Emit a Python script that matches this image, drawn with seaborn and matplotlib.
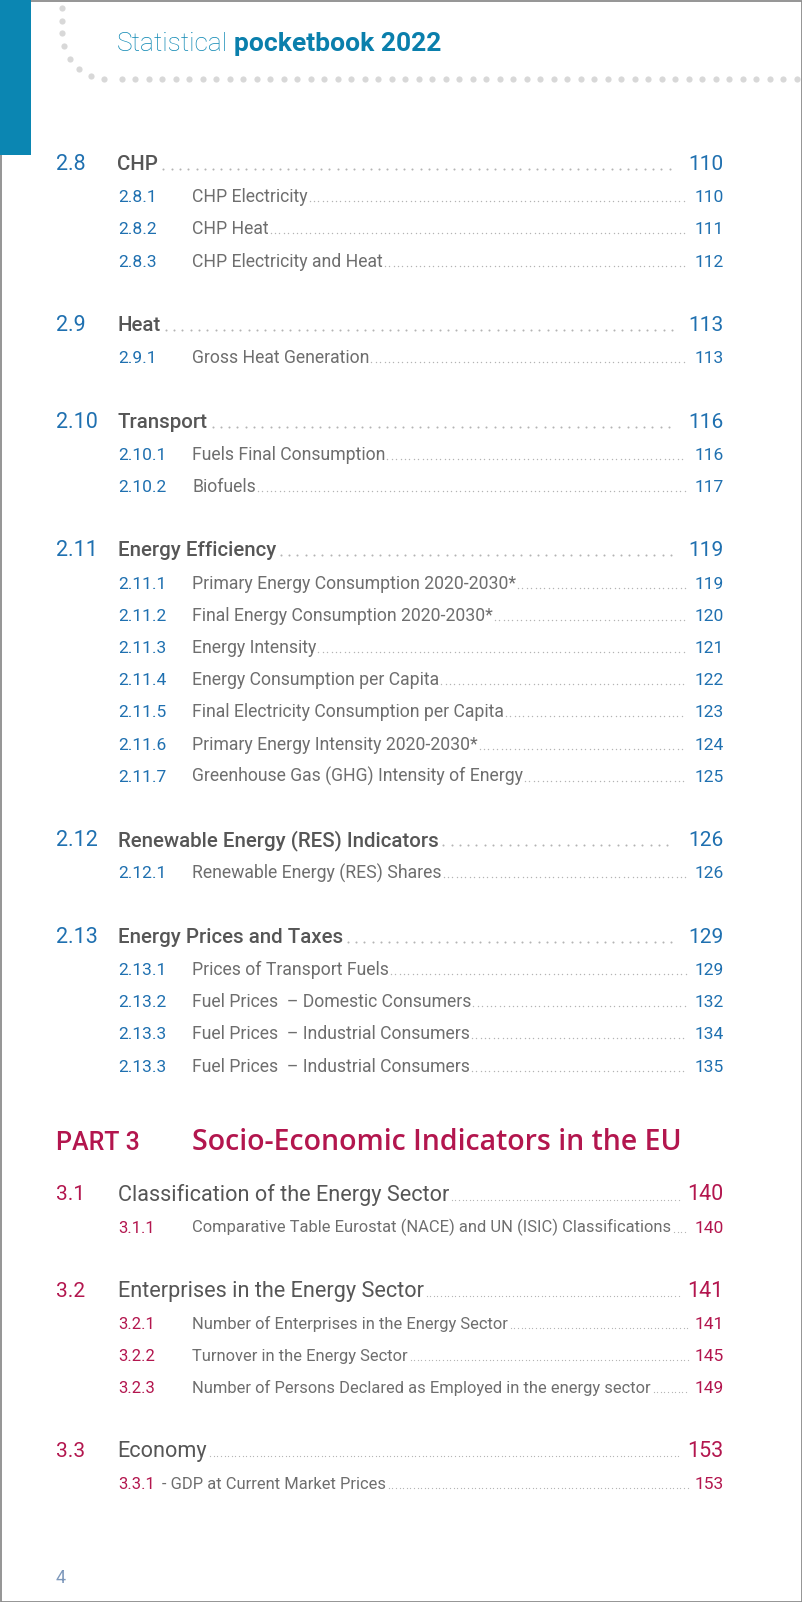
import numpy as np
import pandas as pd
import matplotlib
matplotlib.use("Agg")
import matplotlib.pyplot as plt
from matplotlib.patches import Rectangle
import seaborn as sns

# ---------------- data ----------------
header_light = "Statistical"
header_bold = "pocketbook 2022"
page_label = "4"

p2_numbers = ["2.8", "2.8.1", "2.8.2", "2.8.3", "2.9", "2.9.1", "2.10", "2.10.1", "2.10.2",
              "2.11", "2.11.1", "2.11.2", "2.11.3", "2.11.4", "2.11.5", "2.11.6", "2.11.7",
              "2.12", "2.12.1", "2.13", "2.13.1", "2.13.2", "2.13.3", "2.13.3"]
p2_titles = ["CHP", "CHP Electricity", "CHP Heat", "CHP Electricity and Heat",
             "Heat", "Gross Heat Generation",
             "Transport", "Fuels Final Consumption", "Biofuels",
             "Energy Efficiency", "Primary Energy Consumption 2020-2030*",
             "Final Energy Consumption 2020-2030*", "Energy Intensity",
             "Energy Consumption per Capita", "Final Electricity Consumption per Capita",
             "Primary Energy Intensity 2020-2030*", "Greenhouse Gas (GHG) Intensity of Energy",
             "Renewable Energy (RES) Indicators", "Renewable Energy (RES) Shares",
             "Energy Prices and Taxes", "Prices of Transport Fuels",
             "Fuel Prices  \u2013 Domestic Consumers", "Fuel Prices  \u2013 Industrial Consumers",
             "Fuel Prices  \u2013 Industrial Consumers"]
p2_pages = [110, 110, 111, 112, 113, 113, 116, 116, 117, 119, 119, 120, 121, 122, 123, 124, 125,
            126, 126, 129, 129, 132, 134, 135]
p2_levels = [1, 2, 2, 2, 1, 2, 1, 2, 2, 1, 2, 2, 2, 2, 2, 2, 2, 1, 2, 1, 2, 2, 2, 2]

part3_label = "PART 3"
part3_title = "Socio-Economic Indicators in the EU"
p3_numbers = ["3.1", "3.1.1", "3.2", "3.2.1", "3.2.2", "3.2.3", "3.3", "3.3.1"]
p3_titles = ["Classification of the Energy Sector",
             "Comparative Table Eurostat (NACE) and UN (ISIC) Classifications",
             "Enterprises in the Energy Sector",
             "Number of Enterprises in the Energy Sector",
             "Turnover in the Energy Sector",
             "Number of Persons Declared as Employed in the energy sector",
             "Economy",
             "- GDP at Current Market Prices"]
p3_pages = [140, 140, 141, 141, 145, 149, 153, 153]
p3_levels = [1, 2, 1, 2, 2, 2, 1, 2]

# ---------------- style ----------------
sns.set_theme(style="white")
plt.rcParams["font.family"] = ["Roboto", "DejaVu Sans"]
ROBOTO = ["Roboto", "DejaVu Sans"]
WIDE = ["Open Sans", "Roboto", "DejaVu Sans"]

BLUE = "#1f70b0"
CRIMSON = "#b3164e"
TEAL = "#0c87b3"
DARK = "#565656"
MID = "#6e6e6e"
DOT = "#b4b4b4"

W, H = 802, 1602
fig = plt.figure(figsize=(W / 100, H / 100), dpi=100)
ax = fig.add_axes([0, 0, 1, 1])
ax.set_xlim(0, W)
ax.set_ylim(H, 0)
ax.axis("off")

# page frame + blue tab
ax.add_patch(Rectangle((0.5, 0.5), W - 1, H - 1, fill=False, ec="#8c8c8c", lw=1.3, zorder=5))
ax.add_patch(Rectangle((0, 0), 31, 155, color="#0b86b2", lw=0, zorder=6))

# header dotted arc
vx = [62, 62, 62]
vy = [8, 21, 33]
ang = np.deg2rad(np.arange(180, 271, 17.0))[1:]
cx, cy, r = 108, 33, 46
ax_x = list(vx) + list(cx + r * np.cos(ang))
ax_y = list(vy) + list(cy - r * np.sin(ang))
hx = np.arange(cx + 13.5, W + 5, 13.5)
hdots = pd.DataFrame({"x": ax_x + list(hx), "y": ax_y + [cy + r] * len(hx)})
sns.scatterplot(data=hdots, x="x", y="y", ax=ax, s=20, color="#d8d8d8", linewidth=0, legend=False)

fig.canvas.draw()
rend = fig.canvas.get_renderer()
inv = ax.transData.inverted()


def right_edge(t):
    e = t.get_window_extent(rend)
    return inv.transform((e.x1, e.y0))[0]


def left_edge(t):
    e = t.get_window_extent(rend)
    return inv.transform((e.x0, e.y0))[0]


# header text
t1 = ax.text(117, 51, header_light, fontsize=19, color=TEAL, fontweight="light", va="baseline")
x_after = right_edge(t1) + 6
ax.text(x_after, 51, header_bold, fontsize=19, color="#0a7fac", fontweight="bold", va="baseline")


def baselines(levels, first, sub_step, major_step):
    ys = [first]
    for lv in levels[1:]:
        ys.append(ys[-1] + (major_step if lv == 1 else sub_step))
    return ys


X_NUM1, X_TITLE1, X_NUM2, X_TITLE2, X_RIGHT = 56, 117.5, 118, 192, 723.5


def draw_block(numbers, titles, pages, levels, ys, numcol, sizes, leader):
    for num, title, page, lv, y in zip(numbers, titles, pages, levels, ys):
        if lv == 1:
            ax.text(X_NUM1, y, num, fontsize=sizes["n1"], color=numcol, va="baseline",
                    family=ROBOTO, fontweight="normal")
            tt = ax.text(X_TITLE1, y, title, fontsize=sizes["t1"], color=DARK, va="baseline",
                         family=ROBOTO, fontweight=sizes["w1"])
            tp = ax.text(X_RIGHT, y, str(page), fontsize=sizes["p1"], color=numcol, va="baseline",
                         ha="right", family=ROBOTO, fontweight="normal")
            sp, gap_l, gap_r, s = leader["major"]
        else:
            tn = ax.text(X_NUM2, y, num, fontsize=sizes["n2"], color=numcol, va="baseline",
                         family=ROBOTO)
            xt = X_TITLE2
            if title.startswith("- "):
                xt = right_edge(tn) + 7
            tt = ax.text(xt, y, title, fontsize=sizes["t2"], color=MID, va="baseline",
                         family=ROBOTO)
            tp = ax.text(X_RIGHT, y, str(page), fontsize=sizes["p2"], color=numcol, va="baseline",
                         ha="right", family=ROBOTO)
            sp, gap_l, gap_r, s = leader["sub"]
        xa = right_edge(tt) + gap_l
        xb = left_edge(tp) - gap_r
        xs = np.arange(xa, xb, sp)
        d = pd.DataFrame({"x": xs, "y": [y - 1.0] * len(xs)})
        sns.scatterplot(data=d, x="x", y="y", ax=ax, s=s, color=DOT, linewidth=0, legend=False)


ys2 = baselines(p2_levels, 170, 32.2, 64.4)
draw_block(p2_numbers, p2_titles, p2_pages, p2_levels, ys2, BLUE,
           {"n1": 15.5, "t1": 14.8, "w1": "medium", "p1": 15,
            "n2": 12.5, "t2": 12.7, "p2": 12.5},
           {"major": (8.3, 5, 16, 2.2), "sub": (4.4, 2, 8, 1.0)})

# part 3
ax.text(56, 1150, part3_label, fontsize=18, color=CRIMSON, fontweight="medium", va="baseline")
ax.text(192, 1150, part3_title, fontsize=20.5, color=CRIMSON, fontweight="semibold",
        va="baseline", family=WIDE)

ys3 = baselines(p3_levels, 1200.5, 32.1, 64.2)
draw_block(p3_numbers, p3_titles, p3_pages, p3_levels, ys3, CRIMSON,
           {"n1": 15, "t1": 15.6, "w1": "normal", "p1": 15.5,
            "n2": 12, "t2": 11.9, "p2": 12.5},
           {"major": (3.6, 3, 6, 0.8), "sub": (3.6, 3, 6, 0.8)})

ax.text(56, 1583, page_label, fontsize=13, color="#7d98bb", va="baseline")

ax.set_xlim(0, W)
ax.set_ylim(H, 0)
ax.axis("off")
fig.savefig("out.png", dpi=100)
